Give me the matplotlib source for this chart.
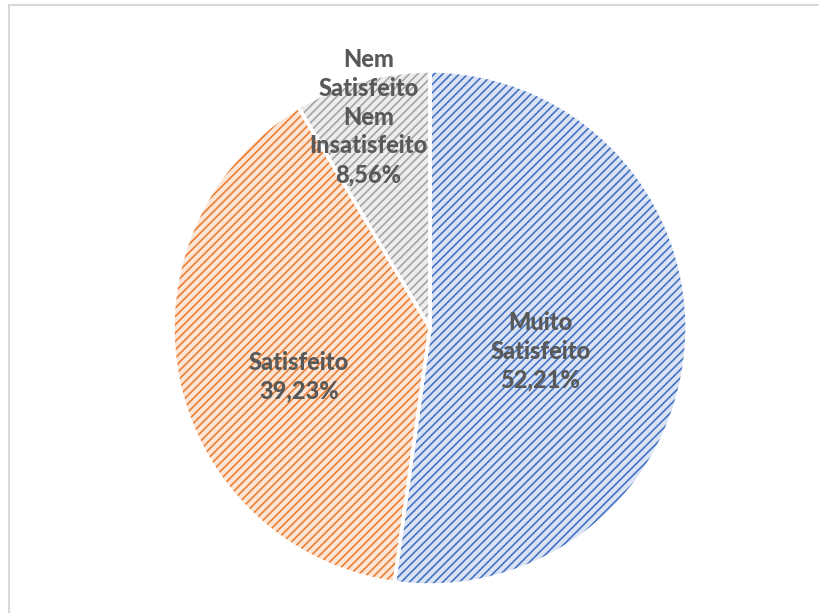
import matplotlib.pyplot as plt
from matplotlib.patches import Rectangle

plt.rcParams['font.family'] = ['Lato', 'DejaVu Sans']
plt.rcParams['hatch.linewidth'] = 1.2

# dados
categorias = ['Muito\nSatisfeito', 'Satisfeito', 'Nem\nSatisfeito\nNem\nInsatisfeito']
valores = [52.21, 39.23, 8.56]
rotulos = ['52,21%', '39,23%', '8,56%']
cores_linha = ['#4472C4', '#ED7D31', '#A5A5A5']
cores_fundo = ['#DAE3F3', '#FBE5D6', '#EDEDED']
# posição dos rótulos (fração do raio, relativo ao centro)
pos_rotulos = [(0.43, -0.09), (-0.51, -0.19), (-0.24, 0.82)]

fig = plt.figure(figsize=(8.2, 6.13), dpi=100)
ax = fig.add_axes([0, 0, 1, 1])

centro = (430, 285)
raio = 257

# fatias com hachura
wedges, _ = ax.pie(valores, startangle=90, counterclock=False,
                   center=centro, radius=raio,
                   wedgeprops=dict(linewidth=0))
for w, cl, cf in zip(wedges, cores_linha, cores_fundo):
    w.set_facecolor(cf)
    w.set_edgecolor(cl)
    w.set_hatch('////')

# contorno branco por cima
ax.pie(valores, startangle=90, counterclock=False,
       center=centro, radius=raio,
       colors=['none'] * 3,
       wedgeprops=dict(edgecolor='white', linewidth=2.5))

for cat, rot, (dx, dy) in zip(categorias, rotulos, pos_rotulos):
    ax.text(centro[0] + dx * raio, centro[1] + dy * raio, cat + '\n' + rot,
            ha='center', va='center', fontsize=17, fontweight='black',
            color='#595959', linespacing=1.3)

ax.set_xlim(0, 820)
ax.set_ylim(0, 613)
ax.set_aspect('equal')
ax.axis('off')

# moldura cinza
fig.patches.append(Rectangle((9 / 820, -0.1), 1.2, (613 - 5) / 613 + 0.1,
                             transform=fig.transFigure, fill=False,
                             edgecolor='#D9D9D9', linewidth=1.5))

fig.savefig('out.png', dpi=100, facecolor='white')
